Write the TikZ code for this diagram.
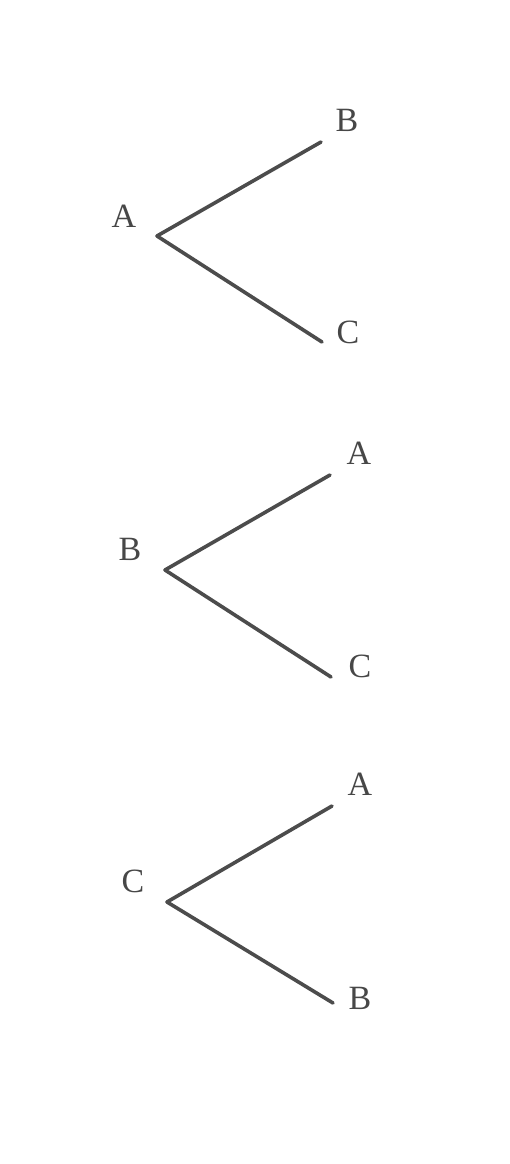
\documentclass[tikz,border=0pt]{standalone}
\usepackage{fontspec}
\setmainfont{Liberation Serif}
\begin{document}
\begin{tikzpicture}[x=1pt,y=-1pt,
  lbl/.style={text=black!72, font=\fontsize{34}{36}\selectfont, inner sep=0pt},
  edge/.style={draw=black!70, line width=3.6pt, line cap=round, line join=round}]
\useasboundingbox[fill=white] (0,0) rectangle (510,1164);
% tree 1
\coordinate (v1) at (157,236);
\coordinate (e1b) at (321,142);
\coordinate (e1c) at (322,342);
\node[lbl] (l1a) at (124,216) {A};
\node[lbl] (l1b) at (347,120) {B};
\node[lbl] (l1c) at (348,332) {C};
\draw[edge] (e1b) -- (v1) -- (e1c);
% tree 2
\coordinate (v2) at (165,570);
\coordinate (e2a) at (330,475);
\coordinate (e2c) at (331,677);
\node[lbl] (l2b) at (130,549) {B};
\node[lbl] (l2a) at (359,453) {A};
\node[lbl] (l2c) at (360,666) {C};
\draw[edge] (e2a) -- (v2) -- (e2c);
% tree 3
\coordinate (v3) at (167,902);
\coordinate (e3a) at (332,806);
\coordinate (e3b) at (333,1003);
\node[lbl] (l3c) at (133,881) {C};
\node[lbl] (l3a) at (360,784) {A};
\node[lbl] (l3b) at (360,998) {B};
\draw[edge] (e3a) -- (v3) -- (e3b);
\end{tikzpicture}
\end{document}
